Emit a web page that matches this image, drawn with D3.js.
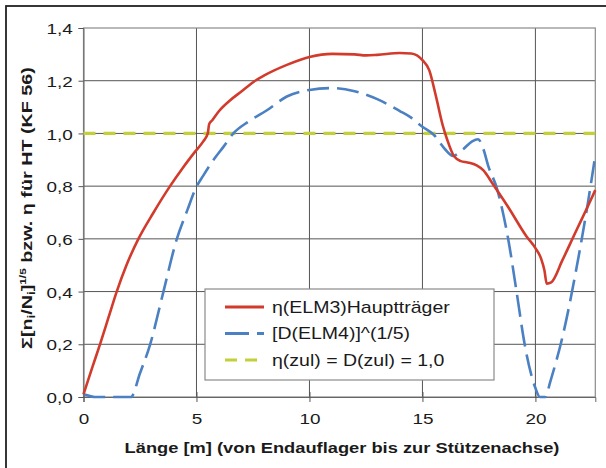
<!DOCTYPE html>
<html>
<head>
<meta charset="utf-8">
<script src="https://cdn.jsdelivr.net/npm/d3@7"></script>
<style>
  body { margin: 0; background: #fff; }
  svg { font-family: "Liberation Sans", Arial, sans-serif; }
</style>
</head>
<body>
<svg width="606" height="468"></svg>
<script>
// values
var redX = [0, 0.4, 0.73, 1.1, 1.47, 1.9, 2.43, 3.1, 3.83, 4.4, 4.93, 5.3, 5.5, 5.56, 5.7, 6.0, 6.48, 7, 7.6, 8, 9, 10, 11, 12, 12.5, 13, 14, 14.5, 15, 15.3, 15.6, 15.9, 16.1, 16.4, 16.7, 17.0, 17.4, 17.7, 18.1, 18.8, 19.6, 20.0, 20.25, 20.4, 20.5, 20.7, 21.2, 21.8, 22.3, 22.65];
var redY = [0.01, 0.115, 0.2, 0.3, 0.4, 0.5, 0.6, 0.7, 0.8, 0.87, 0.93, 0.97, 1.0, 1.035, 1.05, 1.085, 1.125, 1.16, 1.2, 1.22, 1.26, 1.29, 1.302, 1.3, 1.296, 1.298, 1.305, 1.303, 1.278, 1.24, 1.14, 1.03, 0.975, 0.913, 0.895, 0.89, 0.879, 0.86, 0.81, 0.72, 0.61, 0.565, 0.525, 0.48, 0.43, 0.435, 0.52, 0.63, 0.72, 0.785];

var blueX = [0, 0.25, 0.5, 1.0, 1.6, 2.1, 2.5, 2.94, 3.53, 4.12, 4.6, 4.98, 5.3, 5.74, 6.2, 6.63, 7.3, 8.1, 9, 10, 11, 12, 13, 14, 14.5, 15, 15.5, 16, 16.35, 16.8, 17.2, 17.46, 17.7, 17.9, 18.3, 18.8, 19.17, 19.53, 19.98, 20.2, 20.45, 20.64, 21.23, 21.82, 22.34, 22.65];
var blueY = [0.01, 0.005, 0, 0, 0, 0, 0.09, 0.197, 0.397, 0.597, 0.71, 0.794, 0.84, 0.898, 0.95, 1.0, 1.045, 1.087, 1.14, 1.165, 1.172, 1.16, 1.13, 1.085, 1.06, 1.025, 0.995, 0.94, 0.915, 0.94, 0.97, 0.978, 0.94, 0.88, 0.79, 0.597, 0.397, 0.197, 0.039, 0, 0, 0.053, 0.24, 0.49, 0.746, 0.917];

var limitY = 1.0;
var xTicks = [0, 5, 10, 15, 20];
var yTicks = [0, 0.2, 0.4, 0.6, 0.8, 1.0, 1.2, 1.4];
var legendLabels = ["\u03b7(ELM3)Hauptträger", "[D(ELM4)]^(1/5)", "\u03b7(zul) = D(zul) = 1,0"];

var red = "#d23b2c", blue = "#4b80c2", green = "#c3d03a";
var stretch = 1.22; // the original's lettering is a bit wide

var svg = d3.select("svg");

// outer frame (only top and left are inside the picture)
svg.append("rect")
    .attr("x", 6).attr("y", 6)
    .attr("width", 640).attr("height", 500)
    .attr("fill", "none").attr("stroke", "#222").attr("stroke-width", 1.8);

var pLeft = 83.5, pRight = 595.3, pTop = 28, pBottom = 397;
var x = d3.scaleLinear().domain([0, 22.65]).range([pLeft, pRight]);
var y = d3.scaleLinear().domain([0, 1.4]).range([pBottom, pTop]);

// grid
svg.append("g").selectAll("line")
    .data(yTicks.slice(1, -1))
    .enter().append("line")
    .attr("x1", pLeft).attr("x2", pRight)
    .attr("y1", function(d) { return y(d); }).attr("y2", function(d) { return y(d); })
    .attr("stroke", "#555").attr("stroke-width", 1);
svg.append("g").selectAll("line")
    .data(xTicks.slice(1))
    .enter().append("line")
    .attr("y1", pTop).attr("y2", pBottom)
    .attr("x1", function(d) { return x(d); }).attr("x2", function(d) { return x(d); })
    .attr("stroke", "#555").attr("stroke-width", 1);

svg.append("rect")
    .attr("x", pLeft).attr("y", pTop)
    .attr("width", pRight - pLeft).attr("height", pBottom - pTop)
    .attr("fill", "none").attr("stroke", "#8a8a8a").attr("stroke-width", 1.2);

// axes
var fmt = function(d) { return d3.format(".1f")(d).replace(".", ","); };
var yAxis = svg.append("g")
    .attr("transform", "translate(" + pLeft + ",0)")
    .call(d3.axisLeft(y).tickValues(yTicks).tickFormat(fmt).tickSize(5));
var xAxis = svg.append("g")
    .attr("transform", "translate(0," + pBottom + ")")
    .call(d3.axisBottom(x).tickValues(xTicks).tickSize(5).tickPadding(11));
[xAxis, yAxis].forEach(function(a) {
    a.select(".domain").attr("stroke", "#666");
    a.selectAll(".tick line").attr("stroke", "#555");
    a.selectAll("text").attr("font-size", 15.5).attr("fill", "#1a1a1a")
        .attr("font-family", "'Liberation Sans', Arial, sans-serif")
        .attr("transform", "scale(" + stretch + ",1)");
});
xAxis.selectAll(".tick line").attr("y1", -5);
yAxis.selectAll("text").attr("x", -10.8 / stretch).attr("dy", "0.36em");

// lines
var line = d3.line()
    .x(function(d) { return x(d[0]); })
    .y(function(d) { return y(d[1]); })
    .curve(d3.curveMonotoneX);

svg.append("line")
    .attr("x1", x(0)).attr("x2", pRight)
    .attr("y1", y(limitY)).attr("y2", y(limitY))
    .attr("stroke", green).attr("stroke-width", 3.2)
    .attr("stroke-dasharray", "12,8");

svg.append("path")
    .datum(d3.zip(blueX, blueY))
    .attr("d", line)
    .attr("fill", "none").attr("stroke", blue).attr("stroke-width", 2.6)
    .attr("stroke-dasharray", "22,8");

svg.append("path")
    .datum(d3.zip(redX, redY))
    .attr("d", line)
    .attr("fill", "none").attr("stroke", red).attr("stroke-width", 2.6);

// legend
var lg = svg.append("g");
lg.append("rect")
    .attr("x", 205).attr("y", 289).attr("width", 289).attr("height", 91)
    .attr("fill", "#fff").attr("stroke", "#8a8a8a").attr("stroke-width", 1.2);
var legendStyles = [[red, null, 2.8], [blue, "24,8", 2.8], [green, "12,8", 3.2]];
legendLabels.forEach(function(t, i) {
    var ly = 307 + i * 26.5;
    lg.append("line")
        .attr("x1", 225).attr("x2", 264).attr("y1", ly).attr("y2", ly)
        .attr("stroke", legendStyles[i][0]).attr("stroke-width", legendStyles[i][2])
        .attr("stroke-dasharray", legendStyles[i][1]);
    lg.append("text")
        .attr("transform", "translate(272," + (ly + 5.5) + ") scale(" + stretch + ",1)")
        .attr("font-size", 16).attr("fill", "#1a1a1a")
        .text(t);
});

// axis titles
svg.append("text")
    .attr("transform", "translate(342,453) scale(" + stretch + ",1)")
    .attr("text-anchor", "middle")
    .attr("font-size", 15).attr("font-weight", "bold").attr("fill", "#1a1a1a")
    .text("Länge [m] (von Endauflager bis zur Stützenachse)");

var yt = svg.append("text")
    .attr("transform", "translate(32,208) rotate(-90) scale(" + (stretch * 1.08) + ",1)")
    .attr("text-anchor", "middle")
    .attr("font-size", 15).attr("font-weight", "bold").attr("fill", "#1a1a1a");
yt.append("tspan").text("\u03a3[n");
yt.append("tspan").attr("font-size", 10).attr("dy", 3).text("i");
yt.append("tspan").attr("dy", -3).text("/N");
yt.append("tspan").attr("font-size", 10).attr("dy", 3).text("i");
yt.append("tspan").attr("dy", -3).text("]");
yt.append("tspan").attr("font-size", 9).attr("dy", -6).text("1/5");
yt.append("tspan").attr("dy", 6).text(" bzw. \u03b7 für HT (KF 56)");
</script>
</body>
</html>
